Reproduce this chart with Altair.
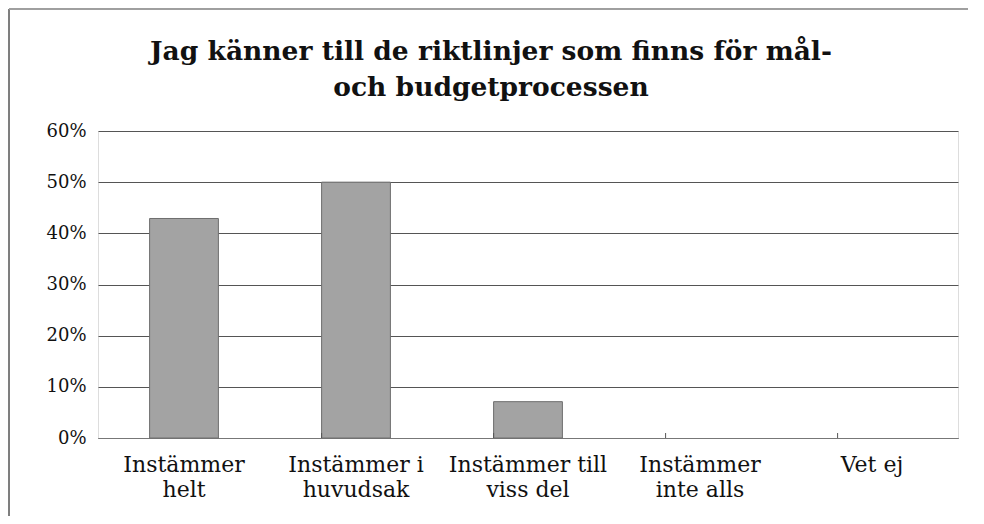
import altair as alt
import pandas as pd

categories = ["Instämmer helt", "Instämmer i huvudsak", "Instämmer till viss del", "Instämmer inte alls", "Vet ej"]
label_lines = [["Instämmer", "helt"], ["Instämmer i", "huvudsak"], ["Instämmer till", "viss del"], ["Instämmer", "inte alls"], ["Vet ej"]]
values = [0.429, 0.50, 0.071, 0.0, 0.0]
boundaries = categories[1:]
title_lines = ["Jag känner till de riktlinjer som finns för mål-", "och budgetprocessen"]

df = pd.DataFrame({"cat": categories, "val": values})
bdf = pd.DataFrame({"cat": boundaries})
tdf = pd.DataFrame({"line": title_lines, "i": list(range(len(title_lines)))})

W, H = 860, 307
FONT = "DejaVu Serif"

parts = []
for c, l in zip(categories, label_lines):
    parts.append("datum.value == '%s' ? %s" % (c, "[" + ",".join("'%s'" % s for s in l) + "]"))
label_expr = " : ".join(parts) + " : datum.value"

xscale = alt.Scale(domain=categories, paddingInner=0.6, paddingOuter=0.3)

bars = alt.Chart(df).transform_filter("datum.val > 0").mark_bar(
    color="#a3a3a3", stroke="#6e6e6e", strokeWidth=1).encode(
    x=alt.X("cat:N", sort=categories, scale=xscale, title=None,
            axis=alt.Axis(labelExpr=label_expr, labelAngle=0, labelFont=FONT, labelFontSize=22,
                          labelColor="#111", labelLineHeight=25, labelPadding=16, ticks=False,
                          domain=True, domainColor="#777", labelBaseline="top")),
    y=alt.Y("val:Q", scale=alt.Scale(domain=[0, 0.6]), title=None,
            axis=alt.Axis(format=".0%", values=[0, 0.1, 0.2, 0.3, 0.4, 0.5, 0.6], labelFont=FONT,
                          labelFontSize=18, labelColor="#111", labelPadding=12, ticks=False,
                          domain=False, grid=True, gridColor="#555", gridWidth=1)),
)

ticks = alt.Chart(bdf).mark_rule(color="#555", strokeWidth=1).encode(
    x=alt.X("cat:N", sort=categories, scale=xscale, bandPosition=0),
    y=alt.value(H),
    y2=alt.value(H - 5),
)

title = alt.Chart(tdf).mark_text(font=FONT, fontSize=26.5, fontWeight="bold", color="#111",
                                 baseline="middle", align="center").encode(
    text="line:N",
    x=alt.value(W / 2 - 37),
    y=alt.Y("i:Q", scale=alt.Scale(domain=[0, 1], range=[-79, -43]), axis=None),
)

frame_left = alt.Chart(bdf).mark_rule(color="#777", strokeWidth=1).encode(
    x=alt.value(-89), y=alt.value(-122), y2=alt.value(H + 80)
)
frame_top = alt.Chart(bdf).mark_rule(color="#999", strokeWidth=1).encode(
    x=alt.value(-89), x2=alt.value(W + 19), y=alt.value(-122)
)

chart = alt.layer(bars, ticks, title, frame_left, frame_top).resolve_scale(y="independent").properties(
    width=W, height=H,
    autosize=alt.AutoSizeParams(type="none"),
    padding={"left": 90, "top": 123, "right": 10, "bottom": 78},
).configure_view(stroke="#666", strokeWidth=1).configure(background="white")

chart.save("out.html", embed_options={"renderer": "svg", "actions": False})
